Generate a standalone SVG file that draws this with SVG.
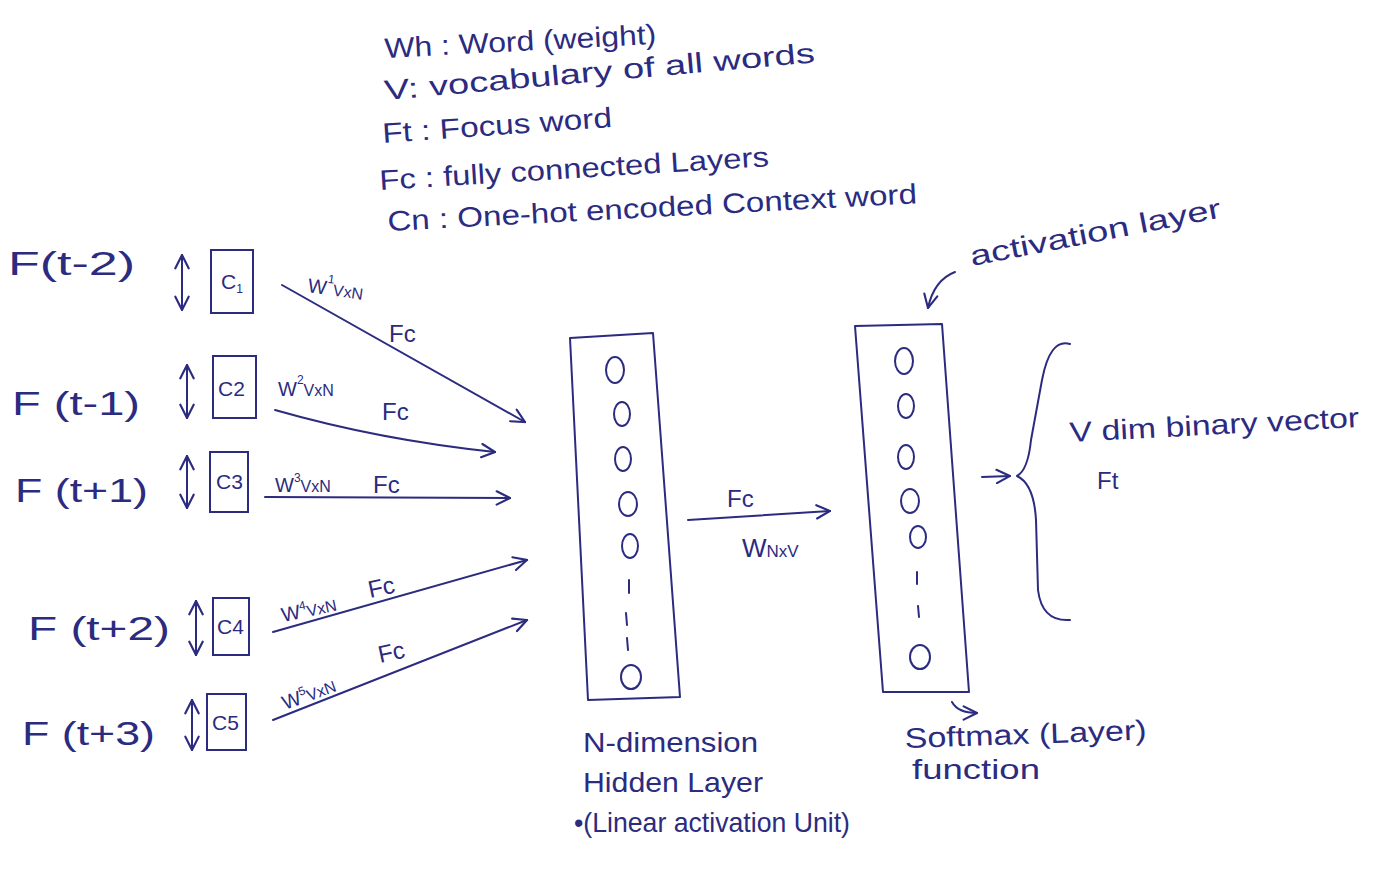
<svg xmlns="http://www.w3.org/2000/svg" width="1400" height="882" viewBox="0 0 1400 882">
<style>
text{font-family:"Liberation Sans","DejaVu Sans",sans-serif;fill:#2b2b80}
.ink{fill:none;stroke:#2b2b80;stroke-width:2;stroke-linecap:round;stroke-linejoin:round}
.leg{font-size:28px}
.lbl{font-size:34px}
.box{fill:none;stroke:#2b2b80;stroke-width:2}
.cl{font-size:21px}
.w{font-size:20px}
.sup{font-size:12px}
.fc{font-size:24px}
.z{fill:none;stroke:#2b2b80;stroke-width:2}
.cap{font-size:28px}
</style>
<defs>
<marker id="ah" viewBox="0 0 12 12" refX="11" refY="6" markerWidth="16" markerHeight="16" orient="auto-start-reverse" markerUnits="userSpaceOnUse">
<path d="M1,1 L11,6 L1,11" fill="none" stroke="#2b2b80" stroke-width="1.6" stroke-linecap="round"/>
</marker>
</defs>
<rect width="1400" height="882" fill="#ffffff"/>

<g id="legend">
<text class="leg" x="385" y="58" textLength="272" lengthAdjust="spacingAndGlyphs" transform="rotate(-3 385 58)">Wh : Word (weight)</text>
<text class="leg" x="385" y="100" textLength="432" lengthAdjust="spacingAndGlyphs" transform="rotate(-5 385 100)">V: vocabulary of all words</text>
<text class="leg" x="383" y="143" textLength="230" lengthAdjust="spacingAndGlyphs" transform="rotate(-4 383 143)">Ft : Focus word</text>
<text class="leg" x="380" y="190" textLength="390" lengthAdjust="spacingAndGlyphs" transform="rotate(-3.5 380 190)">Fc : fully connected Layers</text>
<text class="leg" x="388" y="231" textLength="530" lengthAdjust="spacingAndGlyphs" transform="rotate(-3 388 231)">Cn : One-hot encoded Context word</text>
</g>

<g id="input1">
<text class="lbl" x="8" y="275" textLength="127" lengthAdjust="spacingAndGlyphs">F(t-2)</text>
<line class="ink" x1="182" y1="255" x2="182" y2="310" marker-start="url(#ah)" marker-end="url(#ah)"/>
<rect class="box" x="211" y="250" width="42" height="63"/>
<text class="cl" x="221" y="289">C<tspan class="sup" dy="4">1</tspan></text>
</g>
<g id="input2">
<text class="lbl" x="12" y="415" textLength="128" lengthAdjust="spacingAndGlyphs">F (t-1)</text>
<line class="ink" x1="187" y1="365" x2="187" y2="418" marker-start="url(#ah)" marker-end="url(#ah)"/>
<rect class="box" x="213" y="356" width="43" height="62"/>
<text class="cl" x="218" y="396">C2</text>
</g>
<g id="input3">
<text class="lbl" x="15" y="502" textLength="133" lengthAdjust="spacingAndGlyphs">F (t+1)</text>
<line class="ink" x1="187" y1="456" x2="187" y2="508" marker-start="url(#ah)" marker-end="url(#ah)"/>
<rect class="box" x="210" y="452" width="38" height="60"/>
<text class="cl" x="216" y="489">C3</text>
</g>
<g id="input4">
<text class="lbl" x="28" y="640" textLength="142" lengthAdjust="spacingAndGlyphs">F (t+2)</text>
<line class="ink" x1="196" y1="601" x2="196" y2="655" marker-start="url(#ah)" marker-end="url(#ah)"/>
<rect class="box" x="213" y="598" width="36" height="57"/>
<text class="cl" x="217" y="634">C4</text>
</g>
<g id="input5">
<text class="lbl" x="22" y="745" textLength="133" lengthAdjust="spacingAndGlyphs">F (t+3)</text>
<line class="ink" x1="192" y1="700" x2="192" y2="750" marker-start="url(#ah)" marker-end="url(#ah)"/>
<rect class="box" x="207" y="694" width="39" height="56"/>
<text class="cl" x="212" y="730">C5</text>
</g>

<g id="hidden">
<path class="ink" d="M570,338 L653,333 L680,697 L588,700 Z"/>
<ellipse class="z" cx="615" cy="370" rx="9" ry="13"/>
<ellipse class="z" cx="622" cy="414" rx="8" ry="12"/>
<ellipse class="z" cx="623" cy="459" rx="8" ry="12"/>
<ellipse class="z" cx="628" cy="504" rx="9" ry="12"/>
<ellipse class="z" cx="630" cy="546" rx="8" ry="12"/>
<line class="ink" x1="629" y1="580" x2="629" y2="593"/>
<line class="ink" x1="626" y1="613" x2="627" y2="625"/>
<line class="ink" x1="627" y1="638" x2="628" y2="650"/>
<ellipse class="z" cx="631" cy="677" rx="10" ry="12"/>
<text class="cap" x="583" y="752" textLength="175" lengthAdjust="spacingAndGlyphs">N-dimension</text>
<text class="cap" x="583" y="792" textLength="180" lengthAdjust="spacingAndGlyphs">Hidden Layer</text>
<text class="cap" x="574" y="832" textLength="276" lengthAdjust="spacingAndGlyphs">•(Linear activation Unit)</text>
</g>

<g id="output">
<path class="ink" d="M855,326 L942,324 L969,692 L883,692 Z"/>
<ellipse class="z" cx="904" cy="361" rx="9" ry="13"/>
<ellipse class="z" cx="906" cy="406" rx="8" ry="12"/>
<ellipse class="z" cx="906" cy="457" rx="8" ry="12"/>
<ellipse class="z" cx="910" cy="501" rx="9" ry="12"/>
<ellipse class="z" cx="918" cy="537" rx="8" ry="11"/>
<line class="ink" x1="917" y1="572" x2="917" y2="584"/>
<line class="ink" x1="918" y1="606" x2="919" y2="617"/>
<ellipse class="z" cx="920" cy="657" rx="10" ry="12"/>
<text class="cap" x="905" y="748" textLength="242" lengthAdjust="spacingAndGlyphs" transform="rotate(-2 905 748)">Softmax (Layer)</text>
<text class="cap" x="912" y="779" textLength="128" lengthAdjust="spacingAndGlyphs">function</text>
<text class="cap" x="972" y="266" textLength="255" lengthAdjust="spacingAndGlyphs" transform="rotate(-11 972 266)">activation layer</text>
</g>

<g id="result">
<path class="ink" d="M1070,344 Q1050,338 1042,380 L1031,440 Q1028,470 1017,476 Q1034,484 1036,520 L1038,590 Q1042,622 1070,620"/>
<text class="cap" x="1070" y="442" textLength="290" lengthAdjust="spacingAndGlyphs" transform="rotate(-3 1070 442)">V dim binary vector</text>
<text class="fc" x="1097" y="489" font-size="27">Ft</text>
</g>

<g id="connectors">
<path class="ink" d="M282,285 L525,422" marker-end="url(#ah)"/>
<path class="ink" d="M275,410 Q380,440 495,452" marker-end="url(#ah)"/>
<path class="ink" d="M265,497 L510,498" marker-end="url(#ah)"/>
<path class="ink" d="M273,632 L527,560" marker-end="url(#ah)"/>
<path class="ink" d="M273,720 L527,620" marker-end="url(#ah)"/>
<path class="ink" d="M688,520 L830,511" marker-end="url(#ah)"/>
<path class="ink" d="M982,477 L1010,476" marker-end="url(#ah)"/>
<path class="ink" d="M955,272 Q934,280 928,308" marker-end="url(#ah)"/>
<path class="ink" d="M952,702 Q958,713 977,713" marker-end="url(#ah)"/>
<text class="w" x="307" y="292" transform="rotate(8 307 292)">W<tspan class="sup" dy="-12">1</tspan><tspan dy="12" font-size="16">VxN</tspan></text>
<text class="fc" x="389" y="342">Fc</text>
<text class="w" x="278" y="396">W<tspan class="sup" dy="-12">2</tspan><tspan dy="12" font-size="16">VxN</tspan></text>
<text class="fc" x="382" y="420">Fc</text>
<text class="w" x="275" y="492">W<tspan class="sup" dy="-10">3</tspan><tspan dy="10" font-size="16">VxN</tspan></text>
<text class="fc" x="373" y="493">Fc</text>
<text class="w" x="283" y="622" transform="rotate(-12 283 622)">W<tspan class="sup" dy="-8">4</tspan><tspan dy="8" font-size="16">VxN</tspan></text>
<text class="fc" x="370" y="598" transform="rotate(-12 370 598)">Fc</text>
<text class="w" x="285" y="710" transform="rotate(-20 285 710)">W<tspan class="sup" dy="-8">5</tspan><tspan dy="8" font-size="16">VxN</tspan></text>
<text class="fc" x="380" y="663" transform="rotate(-12 380 663)">Fc</text>
<text class="fc" x="727" y="507">Fc</text>
<text x="742" y="557" font-size="26">W<tspan font-size="17">NxV</tspan></text>
</g>
</svg>
